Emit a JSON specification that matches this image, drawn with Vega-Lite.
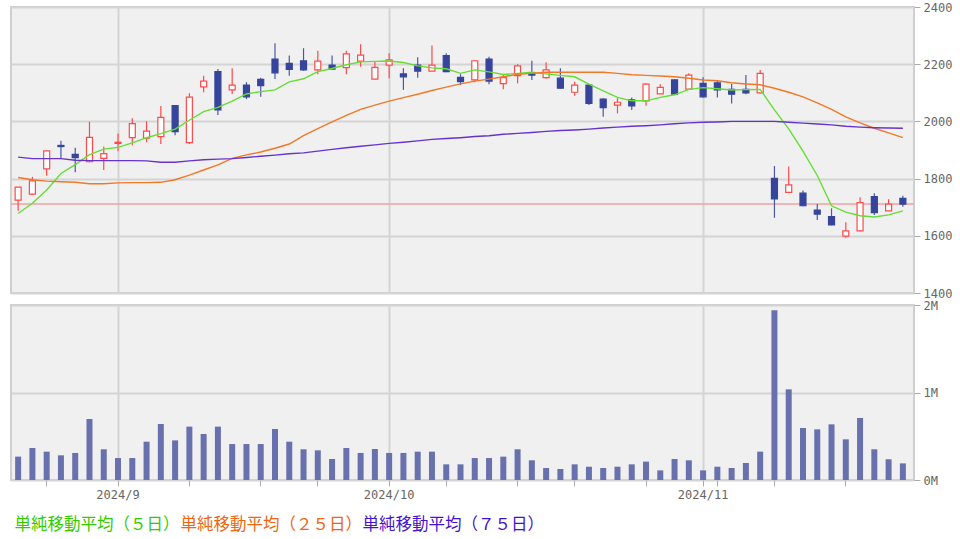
{
  "$schema": "https://vega.github.io/schema/vega-lite/v6.json",
  "padding": {"left": 9, "top": 0, "right": 0, "bottom": 0},
  "autosize": {"type": "pad"},
  "background": "white",
  "bounds": "flush",
  "spacing": 12,
  "config": {
    "view": {"stroke": "#cfcfcf", "strokeWidth": 2, "fill": "#f0f0f0"},
    "axis": {"labelFont": "DejaVu Sans Mono", "labelFontSize": 12, "labelColor": "#666666", "tickColor": "#aaaaaa", "domain": false, "gridColor": "#d4d4d4", "gridWidth": 2, "title": null, "labelOverlap": false},
    "legend": {"orient": "none", "legendX": 5, "legendY": 510, "direction": "horizontal", "symbolSize": 0, "symbolOpacity": 0, "symbolStrokeWidth": 0, "labelOffset": -18, "columnPadding": 0, "padding": 0, "labelFont": "Noto Sans CJK JP", "labelFontSize": 16.5, "labelLimit": 400, "title": null}
  },
  "datasets": {
    "px": [
      {"date": "2024-08-22", "open": 1725, "high": 1770, "low": 1688, "close": 1770, "volume": 267000, "ma5": 1678, "ma25": 1804, "ma75": 1875},
      {"date": "2024-08-23", "open": 1746, "high": 1806, "low": 1743, "close": 1792, "volume": 366000, "ma5": 1714, "ma25": 1796, "ma75": 1870},
      {"date": "2024-08-26", "open": 1834, "high": 1897, "low": 1810, "close": 1897, "volume": 324000, "ma5": 1760, "ma25": 1791, "ma75": 1870},
      {"date": "2024-08-27", "open": 1916, "high": 1932, "low": 1871, "close": 1912, "volume": 282000, "ma5": 1818, "ma25": 1789, "ma75": 1870},
      {"date": "2024-08-28", "open": 1885, "high": 1908, "low": 1822, "close": 1873, "volume": 309000, "ma5": 1849, "ma25": 1787, "ma75": 1864},
      {"date": "2024-08-29", "open": 1859, "high": 1999, "low": 1857, "close": 1944, "volume": 697000, "ma5": 1884, "ma25": 1782, "ma75": 1863},
      {"date": "2024-08-30", "open": 1871, "high": 1912, "low": 1830, "close": 1887, "volume": 351000, "ma5": 1903, "ma25": 1782, "ma75": 1863},
      {"date": "2024-09-02", "open": 1923, "high": 1958, "low": 1896, "close": 1927, "volume": 251000, "ma5": 1909, "ma25": 1785, "ma75": 1863},
      {"date": "2024-09-03", "open": 1943, "high": 2011, "low": 1917, "close": 1992, "volume": 251000, "ma5": 1925, "ma25": 1786, "ma75": 1863},
      {"date": "2024-09-04", "open": 1941, "high": 2001, "low": 1927, "close": 1966, "volume": 438000, "ma5": 1943, "ma25": 1786, "ma75": 1862},
      {"date": "2024-09-05", "open": 1947, "high": 2054, "low": 1921, "close": 2014, "volume": 640000, "ma5": 1957, "ma25": 1787, "ma75": 1857},
      {"date": "2024-09-06", "open": 2055, "high": 2055, "low": 1952, "close": 1964, "volume": 453000, "ma5": 1973, "ma25": 1796, "ma75": 1857},
      {"date": "2024-09-09", "open": 1926, "high": 2098, "low": 1921, "close": 2085, "volume": 610000, "ma5": 2004, "ma25": 1812, "ma75": 1862},
      {"date": "2024-09-10", "open": 2121, "high": 2160, "low": 2102, "close": 2141, "volume": 526000, "ma5": 2034, "ma25": 1830, "ma75": 1866},
      {"date": "2024-09-11", "open": 2174, "high": 2183, "low": 2022, "close": 2040, "volume": 610000, "ma5": 2049, "ma25": 1848, "ma75": 1868},
      {"date": "2024-09-12", "open": 2110, "high": 2186, "low": 2096, "close": 2127, "volume": 411000, "ma5": 2071, "ma25": 1871, "ma75": 1870},
      {"date": "2024-09-13", "open": 2127, "high": 2137, "low": 2078, "close": 2086, "volume": 411000, "ma5": 2096, "ma25": 1883, "ma75": 1874},
      {"date": "2024-09-17", "open": 2147, "high": 2153, "low": 2086, "close": 2125, "volume": 411000, "ma5": 2104, "ma25": 1893, "ma75": 1878},
      {"date": "2024-09-18", "open": 2218, "high": 2273, "low": 2148, "close": 2170, "volume": 583000, "ma5": 2110, "ma25": 1906, "ma75": 1882},
      {"date": "2024-09-19", "open": 2203, "high": 2230, "low": 2160, "close": 2182, "volume": 438000, "ma5": 2138, "ma25": 1921, "ma75": 1887},
      {"date": "2024-09-20", "open": 2212, "high": 2256, "low": 2177, "close": 2180, "volume": 351000, "ma5": 2149, "ma25": 1950, "ma75": 1890},
      {"date": "2024-09-24", "open": 2180, "high": 2247, "low": 2165, "close": 2211, "volume": 339000, "ma5": 2174, "ma25": 1975, "ma75": 1896},
      {"date": "2024-09-25", "open": 2197, "high": 2230, "low": 2182, "close": 2183, "volume": 240000, "ma5": 2185, "ma25": 1998, "ma75": 1902},
      {"date": "2024-09-26", "open": 2188, "high": 2247, "low": 2165, "close": 2236, "volume": 366000, "ma5": 2198, "ma25": 2021, "ma75": 1908},
      {"date": "2024-09-27", "open": 2211, "high": 2270, "low": 2191, "close": 2232, "volume": 309000, "ma5": 2208, "ma25": 2042, "ma75": 1913},
      {"date": "2024-09-30", "open": 2148, "high": 2209, "low": 2148, "close": 2189, "volume": 354000, "ma5": 2210, "ma25": 2057, "ma75": 1918},
      {"date": "2024-10-01", "open": 2197, "high": 2238, "low": 2151, "close": 2215, "volume": 309000, "ma5": 2211, "ma25": 2071, "ma75": 1923},
      {"date": "2024-10-02", "open": 2166, "high": 2186, "low": 2110, "close": 2156, "volume": 309000, "ma5": 2206, "ma25": 2083, "ma75": 1927},
      {"date": "2024-10-03", "open": 2197, "high": 2224, "low": 2153, "close": 2176, "volume": 324000, "ma5": 2194, "ma25": 2095, "ma75": 1932},
      {"date": "2024-10-04", "open": 2176, "high": 2265, "low": 2176, "close": 2197, "volume": 324000, "ma5": 2187, "ma25": 2108, "ma75": 1937},
      {"date": "2024-10-07", "open": 2230, "high": 2238, "low": 2172, "close": 2174, "volume": 179000, "ma5": 2184, "ma25": 2120, "ma75": 1940},
      {"date": "2024-10-08", "open": 2154, "high": 2165, "low": 2127, "close": 2139, "volume": 179000, "ma5": 2168, "ma25": 2131, "ma75": 1943},
      {"date": "2024-10-09", "open": 2145, "high": 2212, "low": 2137, "close": 2212, "volume": 251000, "ma5": 2180, "ma25": 2141, "ma75": 1947},
      {"date": "2024-10-10", "open": 2218, "high": 2226, "low": 2130, "close": 2141, "volume": 251000, "ma5": 2173, "ma25": 2148, "ma75": 1950},
      {"date": "2024-10-11", "open": 2132, "high": 2162, "low": 2112, "close": 2153, "volume": 267000, "ma5": 2164, "ma25": 2156, "ma75": 1955},
      {"date": "2024-10-15", "open": 2160, "high": 2200, "low": 2133, "close": 2194, "volume": 351000, "ma5": 2168, "ma25": 2165, "ma75": 1958},
      {"date": "2024-10-16", "open": 2168, "high": 2212, "low": 2145, "close": 2162, "volume": 225000, "ma5": 2172, "ma25": 2168, "ma75": 1961},
      {"date": "2024-10-17", "open": 2153, "high": 2207, "low": 2150, "close": 2180, "volume": 137000, "ma5": 2166, "ma25": 2172, "ma75": 1965},
      {"date": "2024-10-18", "open": 2151, "high": 2186, "low": 2114, "close": 2116, "volume": 126000, "ma5": 2161, "ma25": 2172, "ma75": 1968},
      {"date": "2024-10-21", "open": 2102, "high": 2139, "low": 2090, "close": 2127, "volume": 179000, "ma5": 2156, "ma25": 2172, "ma75": 1970},
      {"date": "2024-10-22", "open": 2127, "high": 2131, "low": 2057, "close": 2063, "volume": 152000, "ma5": 2130, "ma25": 2172, "ma75": 1973},
      {"date": "2024-10-23", "open": 2078, "high": 2081, "low": 2016, "close": 2048, "volume": 137000, "ma5": 2107, "ma25": 2172, "ma75": 1977},
      {"date": "2024-10-24", "open": 2057, "high": 2081, "low": 2028, "close": 2067, "volume": 152000, "ma5": 2084, "ma25": 2168, "ma75": 1980},
      {"date": "2024-10-25", "open": 2075, "high": 2084, "low": 2040, "close": 2054, "volume": 179000, "ma5": 2072, "ma25": 2163, "ma75": 1983},
      {"date": "2024-10-28", "open": 2072, "high": 2133, "low": 2055, "close": 2130, "volume": 210000, "ma5": 2072, "ma25": 2161, "ma75": 1985},
      {"date": "2024-10-29", "open": 2096, "high": 2130, "low": 2096, "close": 2119, "volume": 110000, "ma5": 2084, "ma25": 2159, "ma75": 1988},
      {"date": "2024-10-30", "open": 2145, "high": 2147, "low": 2092, "close": 2095, "volume": 240000, "ma5": 2093, "ma25": 2156, "ma75": 1992},
      {"date": "2024-10-31", "open": 2113, "high": 2168, "low": 2113, "close": 2162, "volume": 225000, "ma5": 2112, "ma25": 2151, "ma75": 1995},
      {"date": "2024-11-01", "open": 2133, "high": 2154, "low": 2084, "close": 2086, "volume": 110000, "ma5": 2118, "ma25": 2145, "ma75": 1997},
      {"date": "2024-11-05", "open": 2135, "high": 2145, "low": 2084, "close": 2110, "volume": 152000, "ma5": 2114, "ma25": 2142, "ma75": 1998},
      {"date": "2024-11-06", "open": 2112, "high": 2131, "low": 2063, "close": 2095, "volume": 137000, "ma5": 2110, "ma25": 2135, "ma75": 2000},
      {"date": "2024-11-07", "open": 2112, "high": 2162, "low": 2095, "close": 2100, "volume": 194000, "ma5": 2111, "ma25": 2131, "ma75": 2000},
      {"date": "2024-11-08", "open": 2100, "high": 2180, "low": 2098, "close": 2168, "volume": 324000, "ma5": 2112, "ma25": 2128, "ma75": 2000},
      {"date": "2024-11-11", "open": 1801, "high": 1844, "low": 1663, "close": 1729, "volume": 1940000, "ma5": 2040, "ma25": 2116, "ma75": 2000},
      {"date": "2024-11-12", "open": 1752, "high": 1842, "low": 1752, "close": 1778, "volume": 1036000, "ma5": 1974, "ma25": 2102, "ma75": 1997},
      {"date": "2024-11-13", "open": 1749, "high": 1758, "low": 1703, "close": 1705, "volume": 594000, "ma5": 1896, "ma25": 2086, "ma75": 1994},
      {"date": "2024-11-14", "open": 1690, "high": 1711, "low": 1655, "close": 1676, "volume": 579000, "ma5": 1811, "ma25": 2065, "ma75": 1991},
      {"date": "2024-11-15", "open": 1667, "high": 1696, "low": 1637, "close": 1638, "volume": 636000, "ma5": 1705, "ma25": 2042, "ma75": 1988},
      {"date": "2024-11-18", "open": 1599, "high": 1647, "low": 1593, "close": 1617, "volume": 465000, "ma5": 1683, "ma25": 2016, "ma75": 1983},
      {"date": "2024-11-19", "open": 1617, "high": 1735, "low": 1615, "close": 1716, "volume": 709000, "ma5": 1670, "ma25": 1995, "ma75": 1980},
      {"date": "2024-11-20", "open": 1737, "high": 1749, "low": 1673, "close": 1681, "volume": 351000, "ma5": 1666, "ma25": 1976, "ma75": 1978},
      {"date": "2024-11-21", "open": 1687, "high": 1728, "low": 1686, "close": 1711, "volume": 237000, "ma5": 1673, "ma25": 1960, "ma75": 1977},
      {"date": "2024-11-22", "open": 1731, "high": 1740, "low": 1702, "close": 1711, "volume": 190000, "ma5": 1687, "ma25": 1943, "ma75": 1976}
    ],
    "last": [{"price": 1711}]
  },
  "vconcat": [
    {
      "width": 903,
      "height": 286,
      "layer": [
        {
          "data": {"name": "px"},
          "mark": {"type": "rule", "strokeWidth": 0},
          "encoding": {
            "x": {"field": "date", "type": "ordinal", "scale": {"paddingInner": 0, "paddingOuter": 0.14, "align": 0}, "axis": {"values": ["2024-09-02", "2024-10-01", "2024-11-01"], "labels": false, "ticks": false, "domain": false, "grid": true, "bandPosition": 0.5}},
            "y": {"field": "low", "type": "quantitative", "scale": {"domain": [1400, 2400], "nice": false, "zero": false}, "axis": {"orient": "right", "values": [1400, 1600, 1800, 2000, 2200, 2400], "tickSize": 6, "labelPadding": 3, "grid": true, "format": "d"}}
          }
        },
        {
          "data": {"name": "last"},
          "mark": {"type": "rule", "color": "#f3a0a0", "strokeWidth": 1.5},
          "encoding": {"y": {"field": "price", "type": "quantitative"}}
        },
        {
          "data": {"name": "px"},
          "mark": {"type": "rule", "strokeWidth": 1.2},
          "encoding": {
            "x": {"field": "date", "type": "ordinal"},
            "y": {"field": "low", "type": "quantitative"},
            "y2": {"field": "high"},
            "color": {"condition": {"test": "datum.close >= datum.open", "value": "#ff4a4a"}, "value": "#4a58a8"}
          }
        },
        {
          "data": {"name": "px"},
          "mark": {"type": "bar", "size": 6, "strokeWidth": 1.2},
          "encoding": {
            "x": {"field": "date", "type": "ordinal"},
            "y": {"field": "open", "type": "quantitative"},
            "y2": {"field": "close"},
            "fill": {"condition": {"test": "datum.close >= datum.open", "value": "#ffffff"}, "value": "#36459b"},
            "stroke": {"condition": {"test": "datum.close >= datum.open", "value": "#ff4a4a"}, "value": "#36459b"}
          }
        },
        {
          "data": {"name": "px"},
          "transform": [{"fold": ["ma5", "ma25", "ma75"], "as": ["series", "value"]}],
          "mark": {"type": "line", "strokeWidth": 1.4},
          "encoding": {
            "x": {"field": "date", "type": "ordinal"},
            "y": {"field": "value", "type": "quantitative"},
            "color": {
              "field": "series", "type": "nominal",
              "scale": {"domain": ["ma5", "ma25", "ma75"], "range": ["#66dd33", "#f07828", "#6633cc"]},
              "legend": {
                "labelExpr": "datum.value == 'ma5' ? '単純移動平均（５日）' : datum.value == 'ma25' ? '単純移動平均（２５日）' : '単純移動平均（７５日）'",
                "labelColor": {"expr": "datum.value == 'ma5' ? '#33cc00' : datum.value == 'ma25' ? '#ee6611' : '#4411cc'"}
              }
            }
          }
        }
      ]
    },
    {
      "width": 903,
      "height": 175,
      "data": {"name": "px"},
      "mark": {"type": "bar", "color": "#6970ae", "size": 6},
      "encoding": {
        "x": {
          "field": "date", "type": "ordinal",
          "scale": {"paddingInner": 0, "paddingOuter": 0.14, "align": 0},
          "axis": {
            "values": ["2024-08-26", "2024-09-02", "2024-09-09", "2024-09-17", "2024-09-24", "2024-10-01", "2024-10-07", "2024-10-15", "2024-10-21", "2024-10-28", "2024-11-01", "2024-11-05", "2024-11-11", "2024-11-18"],
            "labelExpr": "datum.value == '2024-09-02' ? '2024/9' : datum.value == '2024-10-01' ? '2024/10' : datum.value == '2024-11-01' ? '2024/11' : ''",
            "labelAngle": 0,
            "bandPosition": 0.5,
            "tickSize": 6,
            "labelPadding": 3,
            "grid": true,
            "gridOpacity": {"condition": {"test": "datum.value == '2024-09-02' || datum.value == '2024-10-01' || datum.value == '2024-11-01'", "value": 1}, "value": 0}
          }
        },
        "y": {
          "field": "volume", "type": "quantitative",
          "scale": {"domain": [0, 2000000], "nice": false},
          "axis": {"orient": "right", "values": [0, 1000000, 2000000], "labelExpr": "(datum.value / 1000000) + 'M'", "tickSize": 6, "labelPadding": 3, "grid": true}
        }
      }
    }
  ]
}
